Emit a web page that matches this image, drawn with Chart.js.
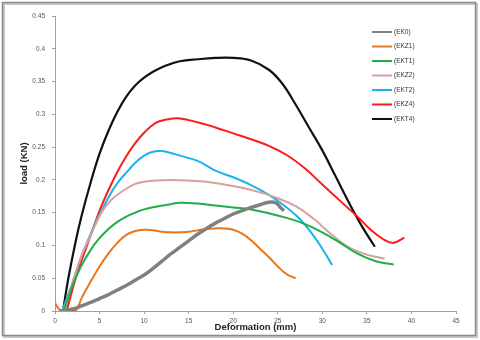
<!DOCTYPE html>
<html>
<head>
<meta charset="utf-8">
<script src="https://cdn.jsdelivr.net/npm/chart.js@4.4.1/dist/chart.umd.min.js"></script>
<style>
  html, body { margin: 0; padding: 0; background: #fff; }
  #wrap { width: 480px; height: 340px; position: relative; }
</style>
</head>
<body>
<div id="wrap"><canvas id="loadChart" width="480" height="340"></canvas></div>
<script>
// series labels as written in the legend
const labels = ["(EK0)", "(EKZ1)", "(EKT1)", "(EKZ2)", "(EKT2)", "(EKZ4)", "(EKT4)"];
const colors = ["#808080", "#e8761a", "#1fae4b", "#d9a09d", "#1cb3ec", "#ff1a1a", "#111111"];
const widths = [3.5, 2, 2, 2, 2, 2, 2.2];

// [deformation (mm), load (kN)]
const ek0 = [[0.5,0],[2,0.003],[3,0.008],[4,0.013],[5,0.019],[6,0.025],[7,0.032],[8,0.039],[9,0.047],
  [10,0.055],[11,0.065],[12,0.076],[13,0.087],[14,0.097],[15,0.107],[16,0.117],[17,0.126],[18,0.134],
  [19,0.141],[20,0.148],[21,0.153],[22,0.158],[23,0.162],[24,0.166],[24.8,0.165],[25.3,0.158],[25.7,0.153]];
const ekz1 = [[0,0.012],[0.6,0.001],[1.5,0],[2.3,0],[3,0.02],[4,0.045],[5,0.068],[6,0.088],[7,0.104],
  [8,0.116],[9,0.122],[10,0.124],[11,0.123],[12,0.121],[13,0.12],[14,0.12],[15,0.121],[16,0.123],
  [17,0.125],[18,0.126],[19,0.126],[20,0.124],[21,0.118],[22,0.108],[23,0.095],[24,0.082],[25,0.068],
  [26,0.056],[27,0.05]];
const ekt1 = [[1,0],[2,0.04],[3,0.07],[4,0.093],[4.8,0.108],[6,0.125],[7,0.136],[8,0.144],[9,0.15],
  [10,0.155],[11.3,0.159],[13,0.163],[14,0.165],[16,0.164],[18,0.161],[20,0.158],[22,0.155],[24,0.149],
  [26,0.142],[28,0.133],[30,0.12],[32,0.104],[34,0.087],[36,0.076],[38,0.071]];
const ekz2 = [[1,0],[2,0.045],[3,0.085],[4,0.115],[5,0.145],[5.6,0.158],[6.5,0.172],[7.6,0.183],[9,0.194],
  [10,0.197],[11.3,0.199],[13,0.2],[15,0.199],[17,0.197],[19,0.193],[21,0.188],[23,0.181],[25,0.172],
  [27,0.16],[29,0.141],[31,0.117],[33,0.097],[35,0.086],[37,0.08]];
const ekt2 = [[0.8,0],[2,0.045],[3,0.085],[3.7,0.108],[4.5,0.133],[6,0.173],[7,0.195],[8.2,0.214],
  [9,0.226],[10,0.237],[11,0.243],[12,0.244],[13,0.241],[14,0.237],[16,0.229],[18,0.214],[20,0.204],
  [22,0.192],[24,0.177],[26,0.158],[27.5,0.14],[29,0.115],[30,0.095],[31.1,0.07]];
const ekz4 = [[1.3,0],[2.5,0.058],[3.6,0.1],[4.2,0.123],[5.3,0.163],[6.8,0.207],[8,0.236],[9,0.256],
  [10,0.272],[11.3,0.287],[12.5,0.292],[13.8,0.294],[16,0.288],[18,0.28],[20,0.271],[22,0.262],[24,0.252],
  [26,0.238],[28,0.218],[30,0.193],[32,0.168],[34,0.143],[35.5,0.123],[37,0.108],[38,0.104],[39.2,0.112]];
const ekt4 = [[0.9,0],[1.5,0.05],[2.3,0.105],[3,0.146],[4,0.196],[5,0.24],[6,0.275],[7,0.304],[8,0.327],
  [9,0.344],[10,0.356],[11,0.365],[12,0.372],[13,0.377],[14,0.381],[16,0.384],[18,0.386],[20,0.386],
  [22,0.382],[24,0.368],[25.5,0.347],[27,0.315],[28.5,0.28],[30,0.245],[31.5,0.205],[33,0.165],
  [34.5,0.128],[35.9,0.098]];

const series = [ek0, ekz1, ekt1, ekz2, ekt2, ekz4, ekt4];

const xMax = 45, xStep = 5;
const yMax = 0.45, yStep = 0.05;

// grey frame around the whole picture
const framePlugin = {
  id: "frame",
  beforeDraw(chart) {
    const ctx = chart.ctx;
    ctx.save();
    ctx.fillStyle = "#fff";
    ctx.fillRect(0, 0, chart.width, chart.height);
    ctx.strokeStyle = "#c8c8c8";
    ctx.lineWidth = 2;
    ctx.strokeRect(4, 4, 473, 333);
    ctx.strokeStyle = "#8a8a8a";
    ctx.lineWidth = 1.5;
    ctx.strokeRect(2.5, 2.5, 473, 333);
    ctx.restore();
  }
};

// legend inside the plot, top right
const legendPlugin = {
  id: "innerLegend",
  afterDraw(chart) {
    const ctx = chart.ctx;
    ctx.save();
    ctx.font = "6.5px 'Liberation Sans', sans-serif";
    ctx.textBaseline = "middle";
    chart.data.datasets.forEach((ds, i) => {
      const y = 32 + i * 14.5;
      ctx.strokeStyle = ds.borderColor;
      ctx.lineWidth = 2;
      ctx.beginPath();
      ctx.moveTo(372, y);
      ctx.lineTo(392, y);
      ctx.stroke();
      ctx.fillStyle = "#333";
      ctx.fillText(ds.label, 394, y);
    });
    ctx.restore();
  }
};

const tickFont = { size: 6.5, family: "'Liberation Sans', sans-serif" };
const titleFont = { size: 9.5, weight: "bold", family: "'Liberation Sans', sans-serif" };

new Chart(document.getElementById("loadChart"), {
  type: "line",
  data: {
    datasets: series.map((pts, i) => ({
      label: labels[i],
      data: pts.map(p => ({ x: p[0], y: p[1] })),
      borderColor: colors[i],
      backgroundColor: colors[i],
      borderWidth: widths[i],
      pointRadius: 0,
      tension: 0.4,
      fill: false,
    })),
  },
  options: {
    responsive: false,
    animation: false,
    layout: { padding: { left: 0, right: 24, top: 16, bottom: 6 } },
    plugins: { legend: { display: false }, tooltip: { enabled: false } },
    scales: {
      x: {
        type: "linear",
        min: 0,
        max: xMax,
        ticks: { stepSize: xStep, padding: 3, color: "#555", font: tickFont },
        grid: { drawOnChartArea: false, drawTicks: true, tickLength: 3, color: "#a0a0a0" },
        border: { color: "#a0a0a0" },
        title: { display: true, text: "Deformation (mm)", color: "#222", padding: { top: 0, bottom: 1 }, font: titleFont },
        afterFit(scale) { scale.height = 23; },
      },
      y: {
        min: 0,
        max: yMax,
        ticks: {
          stepSize: yStep, padding: 7, color: "#555", font: tickFont,
          callback: v => String(Math.round(v * 100) / 100),
        },
        grid: { drawOnChartArea: false, drawTicks: true, tickLength: 3, color: "#a0a0a0" },
        border: { color: "#a0a0a0" },
        title: { display: true, text: "load (KN)", color: "#222", padding: { top: 19, bottom: 0 }, font: titleFont },
        afterFit(scale) { scale.width = 55; },
      },
    },
  },
  plugins: [framePlugin, legendPlugin],
});
</script>
</body>
</html>
